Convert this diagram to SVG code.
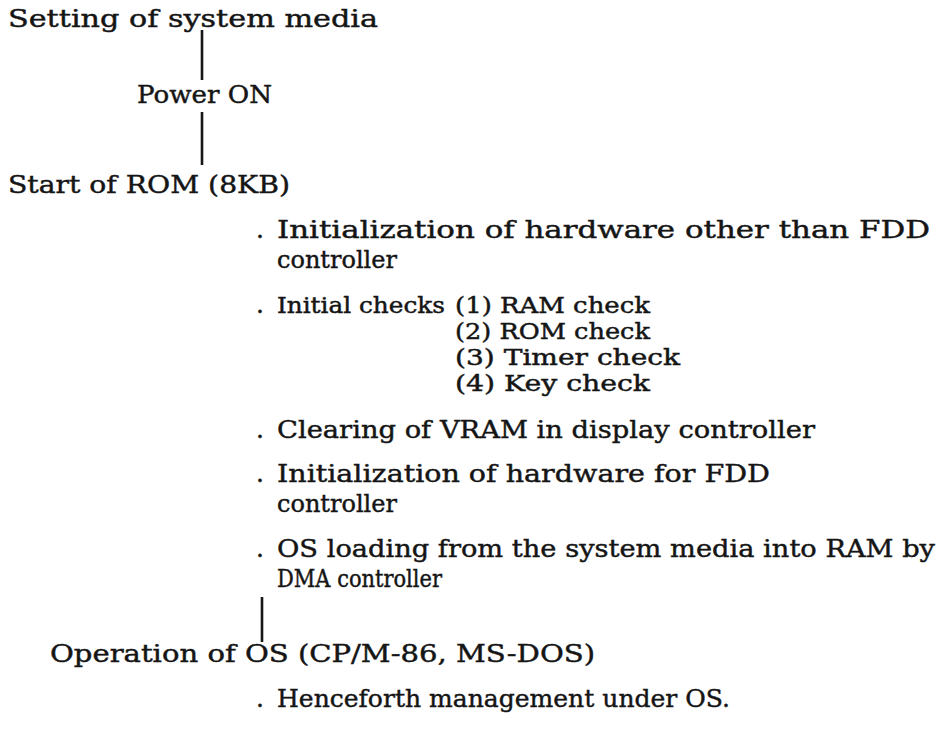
<svg xmlns="http://www.w3.org/2000/svg" width="938" height="737" viewBox="0 0 938 737">
<style>
text{font-family:"DejaVu Serif","Liberation Serif",serif;font-size:25px;fill:#151515;stroke:#151515;stroke-width:0.45}
text.k{font-size:22px}
.c line{stroke:#151515;stroke-width:2.6}
</style>
<rect width="938" height="737" fill="#ffffff"/>
<g class="c" id="connectors">
<line x1="202" y1="30" x2="202" y2="80"/>
<line x1="202" y1="112" x2="202" y2="165"/>
<line x1="262" y1="597" x2="262" y2="642"/>
</g>
<g id="n1"><text x="8" y="27" textLength="370" lengthAdjust="spacingAndGlyphs">Setting of system media</text></g>
<g id="n2"><text x="137" y="103" textLength="135" lengthAdjust="spacingAndGlyphs">Power ON</text></g>
<g id="n3"><text x="8" y="193" textLength="282" lengthAdjust="spacingAndGlyphs">Start of ROM (8KB)</text></g>
<g id="n4">
<text x="256" y="238">.</text>
<text x="277" y="238" textLength="653" lengthAdjust="spacingAndGlyphs">Initialization of hardware other than FDD</text>
<text x="277" y="268" textLength="120" lengthAdjust="spacingAndGlyphs">controller</text>
</g>
<g id="n5">
<text x="256" y="313">.</text>
<text class="k" x="277" y="313" textLength="168" lengthAdjust="spacingAndGlyphs">Initial checks</text>
<text class="k" x="455" y="313" textLength="195" lengthAdjust="spacingAndGlyphs">(1) RAM check</text>
<text class="k" x="455" y="339" textLength="195" lengthAdjust="spacingAndGlyphs">(2) ROM check</text>
<text class="k" x="455" y="365" textLength="225" lengthAdjust="spacingAndGlyphs">(3) Timer check</text>
<text class="k" x="455" y="391" textLength="195" lengthAdjust="spacingAndGlyphs">(4) Key check</text>
</g>
<g id="n6">
<text x="256" y="438">.</text>
<text x="277" y="438" textLength="538" lengthAdjust="spacingAndGlyphs">Clearing of VRAM in display controller</text>
</g>
<g id="n7">
<text x="256" y="482">.</text>
<text x="277" y="482" textLength="493" lengthAdjust="spacingAndGlyphs">Initialization of hardware for FDD</text>
<text x="277" y="512" textLength="120" lengthAdjust="spacingAndGlyphs">controller</text>
</g>
<g id="n8">
<text x="256" y="557">.</text>
<text x="277" y="557" textLength="658" lengthAdjust="spacingAndGlyphs">OS loading from the system media into RAM by</text>
<text x="277" y="587" textLength="165" lengthAdjust="spacingAndGlyphs">DMA controller</text>
</g>
<g id="n9"><text x="50" y="662" textLength="545" lengthAdjust="spacingAndGlyphs">Operation of OS (CP/M-86, MS-DOS)</text></g>
<g id="n10">
<text x="256" y="707">.</text>
<text x="277" y="707" textLength="453" lengthAdjust="spacingAndGlyphs">Henceforth management under OS.</text>
</g>
</svg>
